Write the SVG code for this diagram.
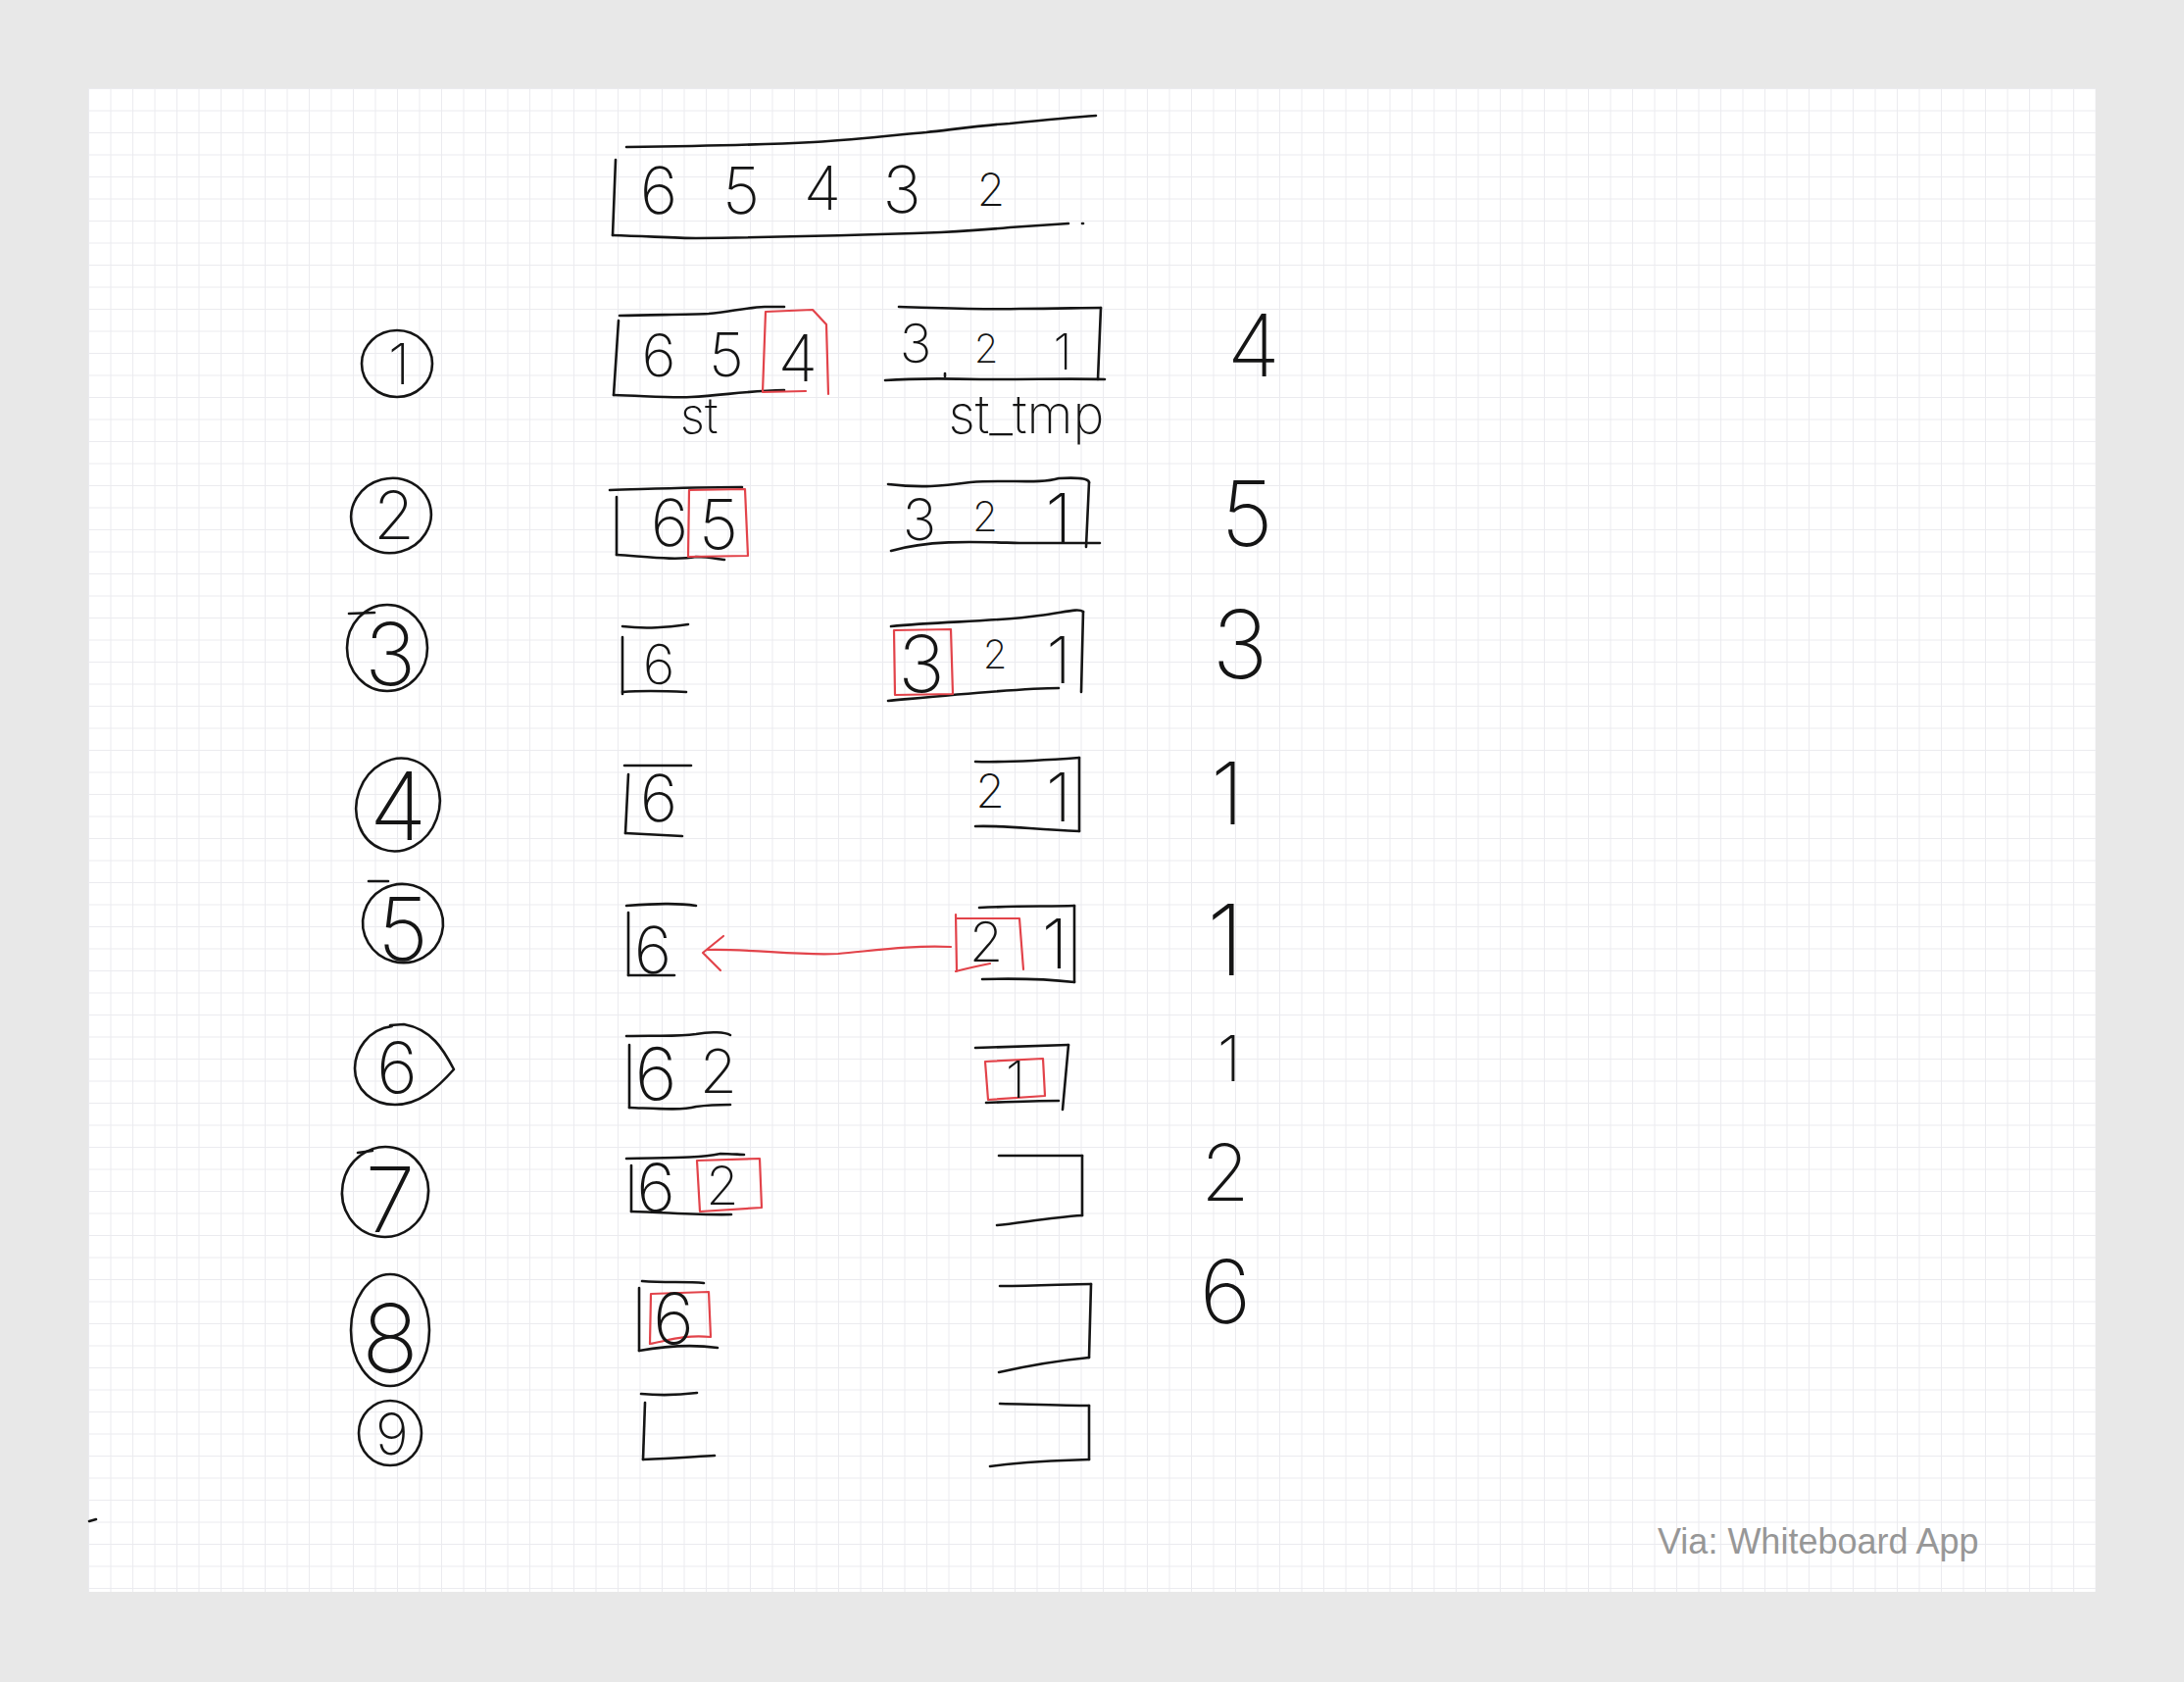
<svg xmlns="http://www.w3.org/2000/svg" width="2228" height="1716" viewBox="0 0 2228 1716">
<defs>
<pattern id="grid" patternUnits="userSpaceOnUse" x="90" y="90" width="22.5" height="22.5">
<path d="M0,0 H22.5 M0,0 V22.5" fill="none" stroke="#ebebef" stroke-width="2"/>
</pattern>
<style>
.ink{fill:none;stroke:#151515;stroke-width:2.6;stroke-linecap:round;stroke-linejoin:round}
.red{fill:none;stroke:#e2434a;stroke-width:2.2;stroke-linecap:round;stroke-linejoin:round}
.d{font-family:Inter,Roboto,"DejaVu Sans",sans-serif;font-weight:200;fill:#151515;text-anchor:middle}
.lbl{font-family:Inter,Roboto,"DejaVu Sans",sans-serif;font-weight:200;fill:#151515;text-anchor:middle}
.via{font-family:"Liberation Sans",Arial,sans-serif;font-size:36px;fill:#979797}
</style>
</defs>
<rect x="0" y="0" width="2228" height="1716" fill="#e8e8e8"/>
<rect x="90" y="90" width="2048" height="1534" fill="#ffffff"/>
<rect x="90" y="90" width="2048" height="1534" fill="url(#grid)"/>

<g id="input">
<path class="ink" d="M639,150 C720,149 790,147 830,145 C880,142 920,137 945,135 C980,131 1010,127 1030,126 C1060,123 1090,120 1118,118"/>
<path class="ink" d="M628,163 L625,240"/>
<path class="ink" d="M625,240 C660,241 690,243 710,243 C800,242 900,239 960,237 C1000,235 1020,233 1030,232 C1060,230 1075,229 1090,228"/>
<path class="ink" d="M1104,228 l1,0"/>
<text class="d" x="672" y="218" font-size="66">6</text>
<text class="d" x="756" y="218" font-size="66">5</text>
<text class="d" x="839" y="214" font-size="62">4</text>
<text class="d" x="920" y="217" font-size="66">3</text>
<text class="d" x="1011" y="210" font-size="46">2</text>
</g>

<g id="step1">
<ellipse class="ink" cx="405" cy="371" rx="36" ry="34"/>
<text class="d" x="407" y="392" font-size="58">1</text>
</g>
<g id="st1">
<path class="ink" d="M632,322 C670,321 700,321 723,320 C745,318 760,314 780,313 L800,313"/>
<path class="ink" d="M631,327 L626,403"/>
<path class="ink" d="M626,403 C660,404 685,406 705,405 C740,403 760,399 800,398"/>
<text class="d" x="672" y="384" font-size="60">6</text>
<text class="d" x="741" y="384" font-size="62">5</text>
<path class="red" d="M781,318 L829,316 L843,331 L845,402 M781,318 L778,400 L822,399"/>
<text class="d" x="814" y="389" font-size="66">4</text>
<text class="lbl" x="713" y="442" font-size="50">st</text>
</g>
<g id="tmp1">
<path class="ink" d="M917,313 C960,314 1000,316 1040,315 C1080,315 1100,314 1123,314"/>
<path class="ink" d="M1123,314 L1120,387"/>
<path class="ink" d="M903,388 C930,386 960,386 1000,387 C1060,387 1100,386 1127,387"/>
<path class="ink" d="M964,381 l0,3"/>
<text class="d" x="934" y="370" font-size="55">3</text>
<text class="d" x="1006" y="370" font-size="40">2</text>
<text class="d" x="1084" y="377" font-size="50">1</text>
<text class="lbl" x="1047" y="442" font-size="54">st_tmp</text>
</g>
<g id="out1"><text class="d" x="1279" y="384" font-size="88">4</text></g>

<g id="step2">
<ellipse class="ink" cx="399" cy="526" rx="41" ry="38" transform="rotate(-15 399 526)"/>
<text class="d" x="402" y="550" font-size="68">2</text>
</g>
<g id="st2">
<path class="ink" d="M622,500 C660,499 700,497 757,497"/>
<path class="ink" d="M629,507 L629,566"/>
<path class="ink" d="M629,566 C660,568 690,572 710,568 C725,568 735,571 739,571"/>
<text class="d" x="683" y="557" font-size="66">6</text>
<path class="red" d="M703,500 L760,499 L763,567 L702,568 Z"/>
<text class="d" x="733" y="560" font-size="70">5</text>
</g>
<g id="tmp2">
<path class="ink" d="M906,494 C940,498 960,496 990,492 C1030,489 1060,494 1080,488 C1100,487 1110,488 1111,492"/>
<path class="ink" d="M1111,492 L1108,558"/>
<path class="ink" d="M909,562 C950,550 1000,553 1040,554 L1122,554"/>
<text class="d" x="938" y="551" font-size="58">3</text>
<text class="d" x="1005" y="542" font-size="42">2</text>
<text class="d" x="1080" y="555" font-size="72">1</text>
</g>
<g id="out2"><text class="d" x="1272" y="557" font-size="92">5</text></g>

<g id="step3">
<ellipse class="ink" cx="395" cy="661" rx="41" ry="44"/>
<path class="ink" d="M356,626 L382,625"/>
<text class="d" x="398" y="699" font-size="88">3</text>
</g>
<g id="st3">
<path class="ink" d="M635,639 C660,642 680,640 702,637"/>
<path class="ink" d="M635,650 L635,708"/>
<path class="ink" d="M635,706 C660,704 680,705 700,706"/>
<text class="d" x="672" y="698" font-size="56">6</text>
</g>
<g id="tmp3">
<path class="ink" d="M909,639 C960,634 1020,634 1060,628 C1085,625 1100,620 1105,624"/>
<path class="ink" d="M1105,624 L1103,706"/>
<path class="ink" d="M906,715 C960,710 1040,702 1080,702"/>
<path class="red" d="M912,643 L970,642 L972,708 L913,709 Z"/>
<text class="d" x="940" y="706" font-size="80">3</text>
<text class="d" x="1015" y="682" font-size="40">2</text>
<text class="d" x="1080" y="697" font-size="66">1</text>
</g>
<g id="out3"><text class="d" x="1265" y="692" font-size="96">3</text></g>

<g id="step4">
<ellipse class="ink" cx="406" cy="821" rx="48" ry="42" transform="rotate(-70 406 821)"/>
<text class="d" x="406" y="857" font-size="96">4</text>
</g>
<g id="st4">
<path class="ink" d="M637,781 L705,781"/>
<path class="ink" d="M641,790 L638,850"/>
<path class="ink" d="M638,850 L696,853"/>
<text class="d" x="672" y="838" font-size="66">6</text>
</g>
<g id="tmp4">
<path class="ink" d="M995,777 C1030,778 1060,776 1101,773"/>
<path class="ink" d="M1101,773 L1101,848"/>
<path class="ink" d="M995,843 C1030,842 1050,846 1101,848"/>
<text class="d" x="1010" y="824" font-size="48">2</text>
<text class="d" x="1080" y="838" font-size="68">1</text>
</g>
<g id="out4"><text class="d" x="1252" y="841" font-size="88">1</text></g>

<g id="step5">
<ellipse class="ink" cx="411" cy="942" rx="40" ry="41" transform="rotate(-75 411 942)"/>
<path class="ink" d="M376,899 L396,899"/>
<text class="d" x="411" y="980" font-size="90">5</text>
</g>
<g id="st5">
<path class="ink" d="M639,924 C670,922 690,921 710,924"/>
<path class="ink" d="M641,931 L641,995"/>
<path class="ink" d="M641,995 L688,995"/>
<text class="d" x="666" y="993" font-size="66">6</text>
</g>
<g id="tmp5">
<path class="ink" d="M999,926 C1040,924 1070,925 1096,924"/>
<path class="ink" d="M1096,924 L1096,1002"/>
<path class="ink" d="M1002,999 C1040,998 1070,999 1096,1002"/>
<path class="red" d="M975,933 L976,991 M975,937 L1040,937 L1044,989 M975,991 C990,987 1000,985 1010,983"/>
<text class="d" x="1006" y="981" font-size="56">2</text>
<text class="d" x="1076" y="988" font-size="70">1</text>
</g>
<g id="out5"><text class="d" x="1250" y="995" font-size="100">1</text></g>

<g id="step6">
<path class="ink" d="M400,1047 C375,1050 362,1072 362,1090 C362,1112 380,1127 403,1127 C428,1127 446,1110 463,1091 C452,1070 440,1050 412,1045 L398,1046"/>
<text class="d" x="405" y="1115" font-size="72">6</text>
</g>
<g id="st6">
<path class="ink" d="M639,1057 C670,1056 690,1058 710,1055 C725,1052 740,1053 745,1056"/>
<path class="ink" d="M642,1066 L642,1130"/>
<path class="ink" d="M642,1130 C670,1131 695,1133 710,1129 C725,1127 735,1127 745,1127"/>
<text class="d" x="669" y="1122" font-size="74">6</text>
<text class="d" x="733" y="1115" font-size="62">2</text>
</g>
<g id="tmp6">
<path class="ink" d="M995,1069 C1030,1068 1060,1067 1090,1066"/>
<path class="ink" d="M1090,1066 L1084,1132"/>
<path class="ink" d="M1006,1125 C1030,1124 1060,1123 1080,1123"/>
<path class="red" d="M1005,1083 L1064,1080 L1066,1118 L1008,1122 Z"/>
<text class="d" x="1036" y="1120" font-size="52">1</text>
</g>
<g id="out6"><text class="d" x="1254" y="1103" font-size="64">1</text></g>

<g id="step7">
<ellipse class="ink" cx="393" cy="1216" rx="46" ry="44" transform="rotate(-80 393 1216)"/>
<path class="ink" d="M365,1176 L380,1174"/>
<text class="d" x="398" y="1257" font-size="92">7</text>
</g>
<g id="st7">
<path class="ink" d="M639,1182 C680,1181 710,1182 735,1177 C745,1177 755,1178 759,1178"/>
<path class="ink" d="M644,1189 L644,1236"/>
<path class="ink" d="M644,1236 C680,1237 720,1240 746,1239"/>
<text class="d" x="669" y="1236" font-size="68">6</text>
<path class="red" d="M711,1184 L775,1182 L777,1232 L714,1236 Z"/>
<text class="d" x="737" y="1229" font-size="54">2</text>
</g>
<g id="tmp7">
<path class="ink" d="M1019,1179 L1104,1179"/>
<path class="ink" d="M1104,1179 L1104,1240"/>
<path class="ink" d="M1104,1240 C1070,1242 1040,1248 1017,1250"/>
</g>
<g id="out7"><text class="d" x="1250" y="1225" font-size="80">2</text></g>

<g id="step8">
<ellipse class="ink" cx="398" cy="1357" rx="40" ry="57"/>
<text class="d" x="398" y="1400" font-size="96">8</text>
</g>
<g id="st8">
<path class="ink" d="M655,1307 C680,1309 700,1307 718,1309"/>
<path class="ink" d="M652,1314 L652,1378"/>
<path class="ink" d="M652,1378 C680,1373 710,1372 732,1375"/>
<path class="red" d="M664,1320 L723,1318 L725,1364 C700,1361 680,1368 663,1371 Z"/>
<text class="d" x="687" y="1371" font-size="72">6</text>
</g>
<g id="tmp8">
<path class="ink" d="M1020,1312 C1060,1312 1090,1310 1113,1310"/>
<path class="ink" d="M1113,1310 L1111,1385"/>
<path class="ink" d="M1111,1385 C1080,1388 1050,1393 1019,1400"/>
</g>
<g id="out8"><text class="d" x="1250" y="1350" font-size="90">6</text></g>

<g id="step9">
<ellipse class="ink" cx="398" cy="1462" rx="32" ry="33"/>
<text class="d" x="400" y="1484" font-size="58">9</text>
</g>
<g id="st9">
<path class="ink" d="M654,1422 C675,1424 695,1423 711,1421"/>
<path class="ink" d="M658,1431 L656,1489"/>
<path class="ink" d="M656,1489 C685,1488 710,1486 729,1485"/>
</g>
<g id="tmp9">
<path class="ink" d="M1020,1432 C1060,1433 1090,1434 1111,1434"/>
<path class="ink" d="M1111,1434 L1111,1489"/>
<path class="ink" d="M1111,1489 C1070,1490 1040,1492 1010,1496"/>
</g>

<g id="connectors">
<path class="red" d="M970,966 C930,964 890,970 855,973 C810,975 770,968 722,969"/>
<path class="red" d="M738,955 L717,972 L735,990"/>
</g>

<path class="ink" d="M91,1552 L98,1550"/>
<text class="via" x="1691" y="1585">Via: Whiteboard App</text>
</svg>
